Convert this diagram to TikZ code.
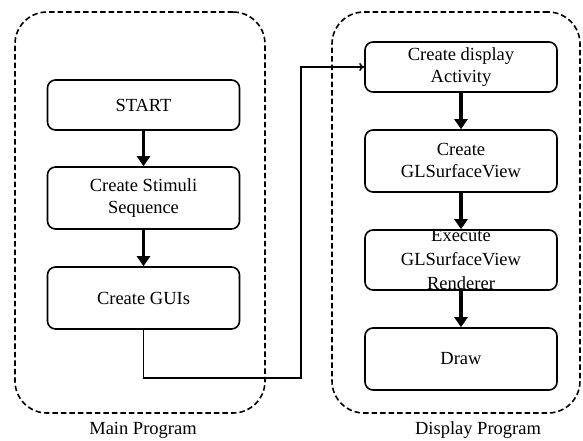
\documentclass[tikz,border=0pt]{standalone}
\usepackage{fontspec}
\setmainfont{Liberation Serif}
\usetikzlibrary{arrows.meta}

\begin{document}
\begin{tikzpicture}[x=1pt,y=-1pt,
    stepbox/.style={draw,line width=1.6pt,rounded corners=8pt,minimum width=192pt,
      align=center,inner sep=0pt,font=\fontsize{18.5}{22}\selectfont},
    progbox/.style={draw,line width=1.6pt,dash pattern=on 5.5pt off 3pt,rounded corners=32pt,
      minimum width=250pt,minimum height=401pt,inner sep=0pt},
    proglabel/.style={font=\fontsize{18.5}{22}\selectfont},
    flow/.style={line width=3.2pt,-{Triangle[length=10pt,width=13pt]}},
    link/.style={line width=1.6pt,-{To[length=5pt,width=8pt]}}]
  \useasboundingbox (0,0) rectangle (583,441);
  % dashed program frames
  \node[progbox] (mainprog) at (140,212.5) {};
  \node[progbox,minimum width=248pt] (dispprog) at (456,212.5) {};
  \node[proglabel] (mainlbl) at (143,430) {Main Program};
  \node[proglabel] (displbl) at (478,430) {Display Program};
  % main program steps
  \node[stepbox,minimum height=50pt] (start) at (143.5,105) {START};
  \node[stepbox,minimum height=62pt] (stimuli) at (143.5,198) {Create Stimuli\\Sequence};
  \node[stepbox,minimum height=62pt] (guis) at (143.5,298) {Create GUIs};
  % display program steps
  \node[stepbox,minimum height=50pt] (activity) at (461,67) {Create display\\Activity};
  \node[stepbox,minimum height=62pt] (surface) at (461,161) {Create\\GLSurfaceView};
  \node[stepbox,minimum height=60pt,inner ysep=-3.5pt,
    font=\fontsize{18.5}{24}\selectfont] (renderer) at (461,260) {Execute\\GLSurfaceView\\Renderer};
  \node[stepbox,minimum height=62pt] (draw) at (461,359) {Draw};
  \draw[flow] (start) -- (stimuli);
  \draw[flow] (stimuli) -- (guis);
  \draw[flow] (activity) -- (surface);
  \draw[flow] (surface) -- (renderer);
  \draw[flow] (renderer) -- (draw);
  % jump to display program
  \coordinate (bend) at (301,378);
  \draw[link] (guis.south) |- (bend) |- (activity.west);
\end{tikzpicture}
\end{document}
